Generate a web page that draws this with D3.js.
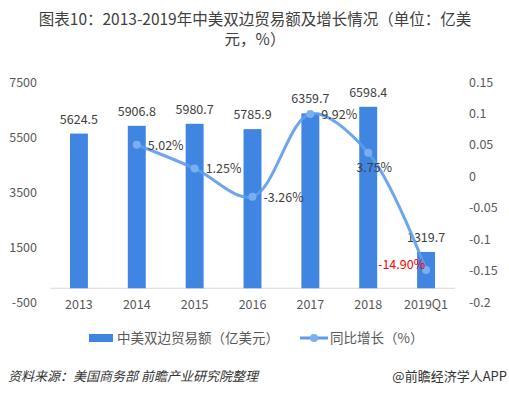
<!DOCTYPE html>
<html>
<head>
<meta charset="utf-8">
<script src="https://cdn.jsdelivr.net/npm/d3@7"></script>
<style>
  body { margin: 0; background: #fff; }
  text { font-family: "Noto Sans CJK SC", "Noto Sans", sans-serif; }
</style>
</head>
<body>
<div id="chart"></div>
<script>
const categories = ["2013", "2014", "2015", "2016", "2017", "2018", "2019Q1"];
const tradeValues = [5624.5, 5906.8, 5980.7, 5785.9, 6359.7, 6598.4, 1319.7];
// growth only from 2014 on
const growthCats = ["2014", "2015", "2016", "2017", "2018", "2019Q1"];
const growthValues = [0.0502, 0.0125, -0.0326, 0.0992, 0.0375, -0.149];
const leftTicks = [-500, 1500, 3500, 5500, 7500];
const rightTicks = [-0.2, -0.15, -0.1, -0.05, 0, 0.05, 0.1, 0.15];
const titleLines = ["图表10：2013-2019年中美双边贸易额及增长情况（单位：亿美", "元，%）"];

const W = 509, H = 394;
const plot = { left: 50, right: 455, top: 82, bottom: 302 };

const svg = d3.select("#chart").append("svg")
  .attr("width", W).attr("height", H);

const barColor = "#3f85e1";
const lineColor = "#5d9cec";
const textColor = "#595959";

// title, one text with two lines
const title = svg.append("text")
  .attr("text-anchor", "middle")
  .style("font-size", "15.5px").attr("fill", "#404040");
titleLines.forEach((t, i) => {
  title.append("tspan").attr("x", 255).attr("y", 25 + i * 20).text(t);
});

const x = d3.scaleBand()
  .domain(categories)
  .range([plot.left, plot.right]);

const yL = d3.scaleLinear()
  .domain([-500, 7500])
  .range([plot.bottom, plot.top]);

const yR = d3.scaleLinear()
  .domain([-0.2, 0.15])
  .range([plot.bottom, plot.top]);

// left axis
const axL = svg.append("g")
  .attr("transform", `translate(${plot.left - 13},0)`)
  .call(d3.axisLeft(yL).tickValues(leftTicks).tickSize(0).tickPadding(0)
    .tickFormat(d => String(d)));
axL.select(".domain").remove();
axL.selectAll("text").style("font-size", "12.5px").attr("fill", textColor)
  .style("font-family", "\"Noto Sans CJK SC\", sans-serif");

// right axis
const axR = svg.append("g")
  .attr("transform", `translate(469,0)`)
  .call(d3.axisRight(yR).tickValues(rightTicks).tickSize(0).tickPadding(0)
    .tickFormat(d => String(+d.toFixed(2))));
axR.select(".domain").remove();
axR.selectAll("text").style("font-size", "12.5px").attr("fill", textColor)
  .style("font-family", "\"Noto Sans CJK SC\", sans-serif");

// baseline at zero
svg.append("line")
  .attr("x1", plot.left).attr("x2", plot.right)
  .attr("y1", yL(0)).attr("y2", yL(0))
  .attr("stroke", "#d9d9d9").attr("stroke-width", 1);

// x labels
svg.append("g")
  .attr("transform", `translate(0,${yL(0)})`)
  .call(d3.axisBottom(x).tickSize(0).tickPadding(12))
  .call(g => g.select(".domain").remove())
  .selectAll("text").style("font-size", "12.5px").attr("fill", textColor)
  .style("font-family", "\"Noto Sans CJK SC\", sans-serif");

// bars
const barW = x.bandwidth() * 0.31;
svg.append("g").selectAll("rect")
  .data(categories)
  .join("rect")
  .attr("x", (d, i) => x(d) + x.bandwidth() / 2 - barW / 2)
  .attr("y", (d, i) => yL(tradeValues[i]))
  .attr("width", barW)
  .attr("height", (d, i) => yL(0) - yL(tradeValues[i]))
  .attr("fill", barColor);

svg.append("g").selectAll("text")
  .data(categories)
  .join("text")
  .attr("x", (d, i) => x(d) + x.bandwidth() / 2)
  .attr("y", (d, i) => yL(tradeValues[i]) - 10)
  .attr("text-anchor", "middle")
  .style("font-size", "12.5px").attr("fill", "#404040")
  .text((d, i) => tradeValues[i].toFixed(1));

// growth line
const pts = growthCats.map((c, i) => [x(c) + x.bandwidth() / 2, yR(growthValues[i])]);
svg.append("path")
  .attr("d", d3.line().curve(d3.curveCatmullRom.alpha(0.5))(pts))
  .attr("fill", "none")
  .attr("stroke", lineColor)
  .attr("stroke-width", 3)
  .attr("opacity", 0.9);

svg.append("g").selectAll("circle")
  .data(pts)
  .join("circle")
  .attr("cx", d => d[0]).attr("cy", d => d[1])
  .attr("r", 4)
  .attr("fill", "#7aafef");

// growth labels: dx, dy, anchor
const labelPos = [
  [11, 5, "start"], [11, 5, "start"], [11, 5, "start"],
  [11, 5, "start"], [6, 19, "middle"], [-48, -1, "start"]
];
svg.append("g").selectAll("text")
  .data(pts)
  .join("text")
  .attr("x", (d, i) => d[0] + labelPos[i][0])
  .attr("y", (d, i) => d[1] + labelPos[i][1])
  .attr("text-anchor", (d, i) => labelPos[i][2])
  .style("font-size", "12.5px")
  .attr("fill", (d, i) => growthValues[i] < -0.1 ? "#ff0000" : "#404040")
  .text((d, i) => (growthValues[i] * 100).toFixed(2) + "%");

// legend
const lg = svg.append("g").attr("transform", "translate(0,338)");
lg.append("rect").attr("x", 89).attr("y", -4).attr("width", 24).attr("height", 8).attr("fill", barColor);
lg.append("text").attr("x", 117).attr("y", 5)
  .style("font-size", "13.5px").attr("fill", textColor)
  .text("中美双边贸易额（亿美元）");
lg.append("line").attr("x1", 300).attr("x2", 328).attr("y1", 0).attr("y2", 0)
  .attr("stroke", lineColor).attr("stroke-width", 3);
lg.append("circle").attr("cx", 314).attr("cy", 0).attr("r", 4).attr("fill", "#7aafef");
lg.append("text").attr("x", 330).attr("y", 5)
  .style("font-size", "13.5px").attr("fill", textColor)
  .text("同比增长（%）");

// source
svg.append("text")
  .attr("x", 8).attr("y", 381)
  .style("font-size", "13px").style("font-style", "italic").attr("fill", "#333")
  .text("资料来源：美国商务部 前瞻产业研究院整理");
svg.append("text")
  .attr("x", 507).attr("y", 381)
  .attr("text-anchor", "end")
  .style("font-size", "13px").attr("fill", "#333")
  .text("@前瞻经济学人APP");
</script>
</body>
</html>
